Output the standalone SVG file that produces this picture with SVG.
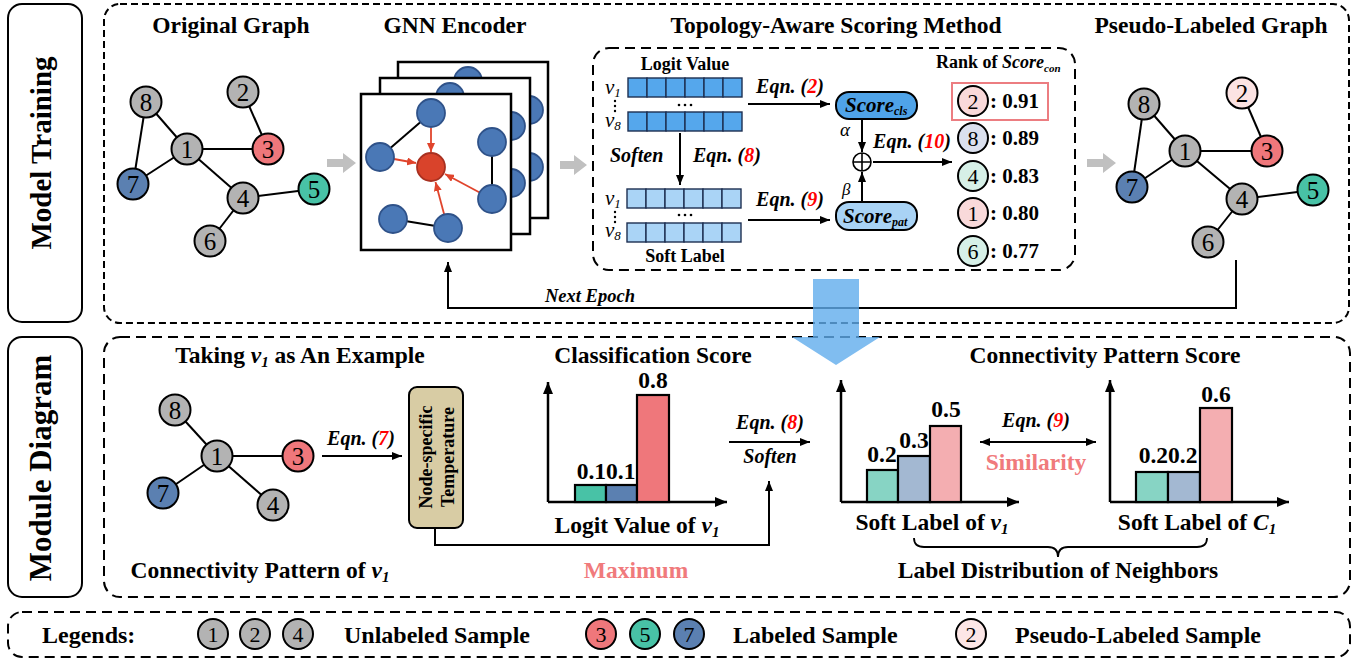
<svg xmlns="http://www.w3.org/2000/svg" width="1367" height="663" viewBox="0 0 1367 663">
<style>
  text { font-family: "Liberation Serif", "Times New Roman", serif; fill: #000; }
  .b { font-weight: bold; }
  .bi { font-weight: bold; font-style: italic; }
  .it { font-style: italic; }
  .title { font-weight: bold; font-size: 23.5px; text-anchor: middle; }
  .eqn { font-weight: bold; font-style: italic; font-size: 20px; text-anchor: middle; }
  .red { fill: #ff0000; }
  .salmon { fill: #f07a7c; font-weight: bold; font-size: 23.5px; text-anchor: middle; }
  .num { font-size: 25px; text-anchor: middle; }
  .rnum { font-size: 22px; text-anchor: middle; }
  .val { font-weight: bold; font-size: 21px; }
  .nd { stroke: #000; stroke-width: 2; }
  .gray { fill: #b3b3b3; }
  .rd { fill: #ef777b; }
  .tl { fill: #48c2a6; }
  .bl { fill: #5b80b1; }
  .edge { stroke: #000; stroke-width: 2; fill: none; }
  .wire { stroke: #000; stroke-width: 2; fill: none; }
  .gnn { fill: #4a78b6; stroke: #2f5289; stroke-width: 1.8; }
  .sq { fill: #fff; stroke: #000; stroke-width: 2.5; }
  .cell1 { fill: #55a7ec; stroke: #1d2f52; stroke-width: 1.4; }
  .cell2 { fill: #aad4f6; stroke: #1d2f52; stroke-width: 1.4; }
  .dash1 { fill: none; stroke: #000; stroke-width: 2; stroke-dasharray: 7 4; }
  .dash2 { fill: none; stroke: #000; stroke-width: 2; stroke-dasharray: 10 6; }
  .axis { stroke: #000; stroke-width: 2.5; fill: none; }
  .bar { stroke: #000; stroke-width: 2.2; }
  .garrow { fill: #c0c0c0; }
</style>
<defs>
  <marker id="ah" viewBox="0 0 10 8" refX="10" refY="4" markerWidth="10" markerHeight="8" markerUnits="userSpaceOnUse" orient="auto-start-reverse">
    <path d="M0,0 L10,4 L0,8 z" fill="#000"/>
  </marker>
  <marker id="ahBig" viewBox="0 0 12 10" refX="12" refY="5" markerWidth="12" markerHeight="10" markerUnits="userSpaceOnUse" orient="auto-start-reverse">
    <path d="M0,0 L12,5 L0,10 z" fill="#000"/>
  </marker>
  <marker id="ahRed" viewBox="0 0 9 8" refX="9" refY="4" markerWidth="9" markerHeight="8" markerUnits="userSpaceOnUse" orient="auto">
    <path d="M0,0 L9,4 L0,8 z" fill="#e0442c"/>
  </marker>
</defs>

<!-- section frames -->
<g id="frames">
  <rect x="8" y="4" width="74" height="318" rx="14" fill="none" stroke="#000" stroke-width="2"/>
  <text class="b" font-size="29" text-anchor="middle" transform="translate(51,153) rotate(-90)">Model Training</text>
  <rect x="8" y="337" width="74" height="260" rx="14" fill="none" stroke="#000" stroke-width="2"/>
  <text class="b" font-size="31" text-anchor="middle" transform="translate(51,468) rotate(-90)">Module Diagram</text>
  <rect class="dash1" x="104" y="4" width="1245" height="319" rx="16"/>
  <rect class="dash2" x="104" y="337" width="1246" height="260" rx="16"/>
  <rect class="dash2" x="8" y="612" width="1342" height="45" rx="14"/>
</g>

<!-- section titles -->
<g id="titles">
  <text class="title" x="231" y="33">Original Graph</text>
  <text class="title" x="455" y="33">GNN Encoder</text>
  <text class="title" x="836" y="33">Topology-Aware Scoring Method</text>
  <text class="title" x="1211" y="33">Pseudo-Labeled Graph</text>
</g>

<!-- original graph -->
<g id="original-graph">
  <g class="edge">
    <line x1="146" y1="102" x2="187" y2="149"/>
    <line x1="146" y1="102" x2="133" y2="184"/>
    <line x1="187" y1="149" x2="133" y2="184"/>
    <line x1="187" y1="149" x2="268" y2="149"/>
    <line x1="187" y1="149" x2="243" y2="198"/>
    <line x1="243" y1="92" x2="268" y2="149"/>
    <line x1="243" y1="198" x2="314" y2="189"/>
    <line x1="243" y1="198" x2="210" y2="241"/>
  </g>
  <circle class="nd gray" cx="146" cy="102" r="15.5"/><text class="num" x="146" y="110.5">8</text>
  <circle class="nd gray" cx="243" cy="92" r="15.5"/><text class="num" x="243" y="100.5">2</text>
  <circle class="nd gray" cx="187" cy="149" r="15.5"/><text class="num" x="187" y="157.5">1</text>
  <circle class="nd rd" cx="268" cy="149" r="15.5"/><text class="num" x="268" y="157.5">3</text>
  <circle class="nd bl" cx="133" cy="184" r="15.5"/><text class="num" x="133" y="192.5">7</text>
  <circle class="nd gray" cx="243" cy="198" r="15.5"/><text class="num" x="243" y="206.5">4</text>
  <circle class="nd tl" cx="314" cy="189" r="15.5"/><text class="num" x="314" y="197.5">5</text>
  <circle class="nd gray" cx="210" cy="241" r="15.5"/><text class="num" x="210" y="249.5">6</text>
</g>

<!-- gray flow arrows -->
<g id="flow-arrows">
  <path class="garrow" d="M327,159 H343 V153 L356,163 L343,173 V167 H327 z"/>
  <path class="garrow" d="M560,161 H574 V155 L587,165 L574,175 V169 H560 z"/>
  <path class="garrow" d="M1087,159 H1103 V153 L1116,163 L1103,173 V167 H1087 z"/>
</g>

<!-- GNN encoder stack -->
<g id="gnn-encoder">
  <rect class="sq" x="398" y="62" width="150" height="156"/>
  <circle class="gnn" cx="468" cy="81" r="14"/>
  <circle class="gnn" cx="529" cy="110" r="14"/>
  <circle class="gnn" cx="529" cy="167" r="14"/>
  <rect class="sq" x="380" y="78" width="150" height="156"/>
  <circle class="gnn" cx="450" cy="97" r="14"/>
  <circle class="gnn" cx="511" cy="126" r="14"/>
  <circle class="gnn" cx="511" cy="183" r="14"/>
  <rect class="sq" x="361" y="94" width="150" height="156"/>
  <g class="edge">
    <line x1="431" y1="113" x2="380" y2="157"/>
    <line x1="492" y1="142" x2="492" y2="199"/>
    <line x1="393" y1="219" x2="448" y2="228"/>
  </g>
  <g stroke="#e0442c" stroke-width="1.8" fill="none" marker-end="url(#ahRed)">
    <line x1="431" y1="128" x2="431" y2="152"/>
    <line x1="394" y1="159" x2="416" y2="163"/>
    <line x1="479.6" y1="192.5" x2="445" y2="174"/>
    <line x1="444.2" y1="214.5" x2="435.5" y2="182"/>
  </g>
  <circle class="gnn" cx="431" cy="113" r="14"/>
  <circle class="gnn" cx="380" cy="157" r="14"/>
  <circle class="gnn" cx="492" cy="142" r="14"/>
  <circle class="gnn" cx="492" cy="199" r="14"/>
  <circle class="gnn" cx="393" cy="219" r="14"/>
  <circle class="gnn" cx="448" cy="228" r="14"/>
  <circle cx="431" cy="167" r="14" fill="#d9432b" stroke="#a83020" stroke-width="1.8"/>
</g>

<!-- topology-aware scoring -->
<g id="scoring">
  <rect class="dash2" x="593" y="48" width="482" height="222" rx="16"/>
  <text class="b" font-size="18" text-anchor="middle" x="685" y="70">Logit Value</text>
  <g class="cell1">
    <rect x="628" y="78" width="19" height="19"/><rect x="647" y="78" width="19" height="19"/><rect x="666" y="78" width="19" height="19"/><rect x="685" y="78" width="19" height="19"/><rect x="704" y="78" width="19" height="19"/><rect x="723" y="78" width="19" height="19"/>
    <rect x="628" y="112" width="19" height="19"/><rect x="647" y="112" width="19" height="19"/><rect x="666" y="112" width="19" height="19"/><rect x="685" y="112" width="19" height="19"/><rect x="704" y="112" width="19" height="19"/><rect x="723" y="112" width="19" height="19"/>
  </g>
  <text class="it" font-size="21" x="605" y="94">v<tspan font-size="13" dy="3">1</tspan></text>
  <text class="it" font-size="21" x="605" y="127">v<tspan font-size="13" dy="3">8</tspan></text>
  <g fill="#000">
    <circle cx="615" cy="101" r="1.2"/><circle cx="615" cy="106" r="1.2"/><circle cx="615" cy="111" r="1.2"/>
    <circle cx="679" cy="105" r="1.3"/><circle cx="685" cy="105" r="1.3"/><circle cx="691" cy="105" r="1.3"/>
    <circle cx="615" cy="212" r="1.2"/><circle cx="615" cy="217" r="1.2"/><circle cx="615" cy="222" r="1.2"/>
    <circle cx="679" cy="215" r="1.3"/><circle cx="685" cy="215" r="1.3"/><circle cx="691" cy="215" r="1.3"/>
  </g>
  <g class="cell2">
    <rect x="627" y="189" width="19" height="19"/><rect x="646" y="189" width="19" height="19"/><rect x="665" y="189" width="19" height="19"/><rect x="684" y="189" width="19" height="19"/><rect x="703" y="189" width="19" height="19"/><rect x="722" y="189" width="19" height="19"/>
    <rect x="627" y="223" width="19" height="19"/><rect x="646" y="223" width="19" height="19"/><rect x="665" y="223" width="19" height="19"/><rect x="684" y="223" width="19" height="19"/><rect x="703" y="223" width="19" height="19"/><rect x="722" y="223" width="19" height="19"/>
  </g>
  <text class="it" font-size="21" x="605" y="205">v<tspan font-size="13" dy="3">1</tspan></text>
  <text class="it" font-size="21" x="605" y="237">v<tspan font-size="13" dy="3">8</tspan></text>
  <text class="b" font-size="18" text-anchor="middle" x="685" y="262">Soft Label</text>

  <text class="bi" font-size="20" x="610" y="162">Soften</text>
  <text class="bi" font-size="20" x="693" y="162">Eqn. (<tspan class="red">8</tspan>)</text>
  <text class="eqn" x="790" y="93">Eqn. (<tspan class="red">2</tspan>)</text>
  <text class="eqn" x="790" y="206">Eqn. (<tspan class="red">9</tspan>)</text>
  <text class="eqn" x="912" y="148">Eqn. (<tspan class="red">10</tspan>)</text>

  <g id="score-cls">
    <rect x="836" y="92" width="81" height="27" rx="13" fill="#4fa3e8" stroke="#000" stroke-width="2"/>
    <text class="bi" font-size="21" x="845" y="112">Score<tspan font-size="12" dy="3">cls</tspan></text>
  </g>
  <g id="score-pat">
    <rect x="836" y="202" width="81" height="28" rx="13" fill="#a9d3f5" stroke="#000" stroke-width="2"/>
    <text class="bi" font-size="21" x="843" y="223">Score<tspan font-size="12" dy="3">pat</tspan></text>
  </g>
  <circle cx="862" cy="162" r="9" fill="none" stroke="#000" stroke-width="1.6"/>
  <path d="M853,162 H871 M862,153 V171" stroke="#000" stroke-width="1.6"/>
  <text class="it" font-size="19" x="840" y="136">α</text>
  <text class="it" font-size="17" x="842" y="195">β</text>

  <text class="b" font-size="18" x="936" y="68">Rank of <tspan class="bi">Score</tspan><tspan class="bi" font-size="11" dy="4">con</tspan></text>
  <rect x="952" y="83" width="96" height="37" fill="none" stroke="#ec7d81" stroke-width="2"/>
  <circle class="nd" cx="973" cy="101" r="15" fill="#f9d9da"/><text class="rnum" x="973" y="108.5">2</text><text class="val" x="990" y="108">: 0.91</text>
  <circle class="nd" cx="973" cy="138" r="15" fill="#dbe0ee"/><text class="rnum" x="973" y="145.5">8</text><text class="val" x="990" y="145">: 0.89</text>
  <circle class="nd" cx="973" cy="176" r="15" fill="#d6f0e7"/><text class="rnum" x="973" y="183.5">4</text><text class="val" x="990" y="183">: 0.83</text>
  <circle class="nd" cx="973" cy="213" r="15" fill="#f9d9da"/><text class="rnum" x="973" y="220.5">1</text><text class="val" x="990" y="220">: 0.80</text>
  <circle class="nd" cx="973" cy="251" r="15" fill="#d6f0e7"/><text class="rnum" x="973" y="258.5">6</text><text class="val" x="990" y="258">: 0.77</text>
</g>

<!-- pseudo-labeled graph -->
<g id="pseudo-graph">
  <g class="edge">
    <line x1="1144" y1="104" x2="1185" y2="151"/>
    <line x1="1144" y1="104" x2="1132" y2="187"/>
    <line x1="1185" y1="151" x2="1132" y2="187"/>
    <line x1="1185" y1="151" x2="1267" y2="151"/>
    <line x1="1185" y1="151" x2="1242" y2="199"/>
    <line x1="1242" y1="93" x2="1267" y2="151"/>
    <line x1="1242" y1="199" x2="1313" y2="190"/>
    <line x1="1242" y1="199" x2="1208" y2="242"/>
  </g>
  <circle class="nd gray" cx="1144" cy="104" r="15.5"/><text class="num" x="1144" y="112.5">8</text>
  <circle class="nd" fill="#fce3e3" cx="1242" cy="93" r="15.5"/><text class="num" x="1242" y="101.5">2</text>
  <circle class="nd gray" cx="1185" cy="151" r="15.5"/><text class="num" x="1185" y="159.5">1</text>
  <circle class="nd rd" cx="1267" cy="151" r="15.5"/><text class="num" x="1267" y="159.5">3</text>
  <circle class="nd bl" cx="1132" cy="187" r="15.5"/><text class="num" x="1132" y="195.5">7</text>
  <circle class="nd gray" cx="1242" cy="199" r="15.5"/><text class="num" x="1242" y="207.5">4</text>
  <circle class="nd tl" cx="1313" cy="190" r="15.5"/><text class="num" x="1313" y="198.5">5</text>
  <circle class="nd gray" cx="1208" cy="242" r="15.5"/><text class="num" x="1208" y="250.5">6</text>
</g>

<!-- connectors -->
<g id="connectors">
  <path class="wire" d="M1236,260 V308 H448 V262" marker-end="url(#ah)"/>
  <path class="wire" d="M680,133 V185" marker-end="url(#ah)"/>
  <path class="wire" d="M748,104 H830" marker-end="url(#ah)"/>
  <path class="wire" d="M748,220 H830" marker-end="url(#ah)"/>
  <path class="wire" d="M862,119 V152" marker-end="url(#ah)"/>
  <path class="wire" d="M862,202 V172" marker-end="url(#ah)"/>
  <path class="wire" d="M873,162 H952" marker-end="url(#ah)"/>
  <path class="wire" d="M322,456 H402" marker-end="url(#ah)"/>
  <path class="wire" d="M435,528 V545 H769 V481" marker-end="url(#ah)"/>
  <path class="wire" d="M729,442 H810" marker-end="url(#ah)"/>
  <path class="wire" d="M980,442 H1096" marker-start="url(#ah)" marker-end="url(#ah)"/>
</g>
<text class="bi" font-size="18.5" x="545" y="302">Next Epoch</text>

<!-- module diagram: neighbourhood of v1 -->
<g id="example-graph">
  <text class="title" x="300" y="363">Taking <tspan class="bi">v</tspan><tspan class="bi" font-size="15" dy="4">1</tspan><tspan dy="-4"> as An Example</tspan></text>
  <g class="edge">
    <line x1="175" y1="410" x2="217" y2="456"/>
    <line x1="217" y1="456" x2="298" y2="456"/>
    <line x1="217" y1="456" x2="163" y2="493"/>
    <line x1="217" y1="456" x2="273" y2="505"/>
  </g>
  <circle class="nd gray" cx="175" cy="410" r="15.5"/><text class="num" x="175" y="418.5">8</text>
  <circle class="nd gray" cx="217" cy="456" r="15.5"/><text class="num" x="217" y="464.5">1</text>
  <circle class="nd rd" cx="298" cy="456" r="15.5"/><text class="num" x="298" y="464.5">3</text>
  <circle class="nd bl" cx="163" cy="493" r="15.5"/><text class="num" x="163" y="501.5">7</text>
  <circle class="nd gray" cx="273" cy="505" r="15.5"/><text class="num" x="273" y="513.5">4</text>
  <text class="title" x="260" y="578">Connectivity Pattern of <tspan class="bi">v</tspan><tspan class="bi" font-size="15" dy="4">1</tspan></text>
  <text class="eqn" x="361" y="445" font-size="20.5">Eqn. (<tspan class="red">7</tspan>)</text>
</g>

<g id="temperature">
  <rect x="409" y="387" width="54" height="141" rx="8" fill="#d8cca4" stroke="#000" stroke-width="2"/>
  <text class="b" font-size="18" text-anchor="middle" transform="translate(432,457) rotate(-90)">Node-specific</text>
  <text class="b" font-size="18" text-anchor="middle" transform="translate(454,457) rotate(-90)">Temperature</text>
</g>
<text class="salmon" x="636" y="578">Maximum</text>

<!-- classification score chart -->
<g id="classification-chart">
  <text class="title" x="653" y="363">Classification Score</text>
  <path class="axis" d="M548,502 V382" marker-end="url(#ahBig)"/>
  <path class="axis" d="M548,502 H727" marker-end="url(#ahBig)"/>
  <rect class="bar" x="575" y="485" width="31" height="17" fill="#48c2a6"/>
  <rect class="bar" x="606" y="485" width="31" height="17" fill="#5b80b1"/>
  <rect class="bar" x="637" y="395" width="32" height="107" fill="#ef777b"/>
  <text class="title" x="606" y="479">0.10.1</text>
  <text class="title" x="653" y="388">0.8</text>
  <text class="title" x="637" y="533">Logit Value of <tspan class="bi">v</tspan><tspan class="bi" font-size="15" dy="4">1</tspan></text>
  <text class="eqn" x="770" y="429" font-size="20.5">Eqn. (<tspan class="red">8</tspan>)</text>
  <text class="eqn" x="770" y="463" font-size="20.5">Soften</text>
</g>

<!-- connectivity pattern score charts -->
<g id="pattern-charts">
  <text class="title" x="1105" y="363">Connectivity Pattern Score</text>
  <path class="axis" d="M841,502 V380" marker-end="url(#ahBig)"/>
  <path class="axis" d="M841,502 H1019" marker-end="url(#ahBig)"/>
  <rect class="bar" x="867" y="470" width="31" height="32" fill="#87d4c4"/>
  <rect class="bar" x="898" y="456" width="32" height="46" fill="#a3b8d2"/>
  <rect class="bar" x="930" y="426" width="31" height="76" fill="#f4aeb1"/>
  <text class="title" x="882" y="462">0.2</text>
  <text class="title" x="914" y="448">0.3</text>
  <text class="title" x="946" y="417">0.5</text>
  <text class="title" x="932" y="530">Soft Label of <tspan class="bi">v</tspan><tspan class="bi" font-size="15" dy="4">1</tspan></text>

  <text class="eqn" x="1036" y="427" font-size="20.5">Eqn. (<tspan class="red">9</tspan>)</text>
  <text class="salmon" x="1036" y="470">Similarity</text>

  <path class="axis" d="M1110,502 V380" marker-end="url(#ahBig)"/>
  <path class="axis" d="M1110,502 H1289" marker-end="url(#ahBig)"/>
  <rect class="bar" x="1136" y="472" width="32" height="30" fill="#87d4c4"/>
  <rect class="bar" x="1168" y="472" width="32" height="30" fill="#a3b8d2"/>
  <rect class="bar" x="1200" y="408" width="32" height="94" fill="#f4aeb1"/>
  <text class="title" x="1168" y="463">0.20.2</text>
  <text class="title" x="1216" y="402">0.6</text>
  <text class="title" x="1197" y="530">Soft Label of <tspan class="bi">C</tspan><tspan class="bi" font-size="15" dy="4">1</tspan></text>

  <path d="M914,538 Q914,547 924,547 H1048 Q1058,547 1058,557 Q1058,547 1068,547 H1197 Q1207,547 1207,538" fill="none" stroke="#000" stroke-width="1.8"/>
  <text class="title" x="1058" y="578">Label Distribution of Neighbors</text>
</g>

<!-- transition arrow between the two panels -->
<polygon points="813,279 859,279 859,337 880,337 836,365 792,337 813,337" fill="#60acec" opacity="0.8"/>

<!-- legend -->
<g id="legend">
  <text class="b" font-size="24" x="42" y="643">Legends:</text>
  <circle class="nd gray" cx="213" cy="634" r="15"/><text class="rnum" x="213" y="641.5">1</text>
  <circle class="nd gray" cx="255" cy="634" r="15"/><text class="rnum" x="255" y="641.5">2</text>
  <circle class="nd gray" cx="298" cy="634" r="15"/><text class="rnum" x="298" y="641.5">4</text>
  <text class="b" font-size="24" x="344" y="643">Unlabeled Sample</text>
  <circle class="nd rd" cx="601" cy="634" r="15"/><text class="rnum" x="601" y="641.5">3</text>
  <circle class="nd tl" cx="645" cy="634" r="15"/><text class="rnum" x="645" y="641.5">5</text>
  <circle class="nd bl" cx="689" cy="634" r="15"/><text class="rnum" x="689" y="641.5">7</text>
  <text class="b" font-size="24" x="733" y="643">Labeled Sample</text>
  <circle class="nd" fill="#fce6e6" cx="971" cy="634" r="15"/><text class="rnum" x="971" y="641.5">2</text>
  <text class="b" font-size="24" x="1015" y="643">Pseudo-Labeled Sample</text>
</g>
</svg>
